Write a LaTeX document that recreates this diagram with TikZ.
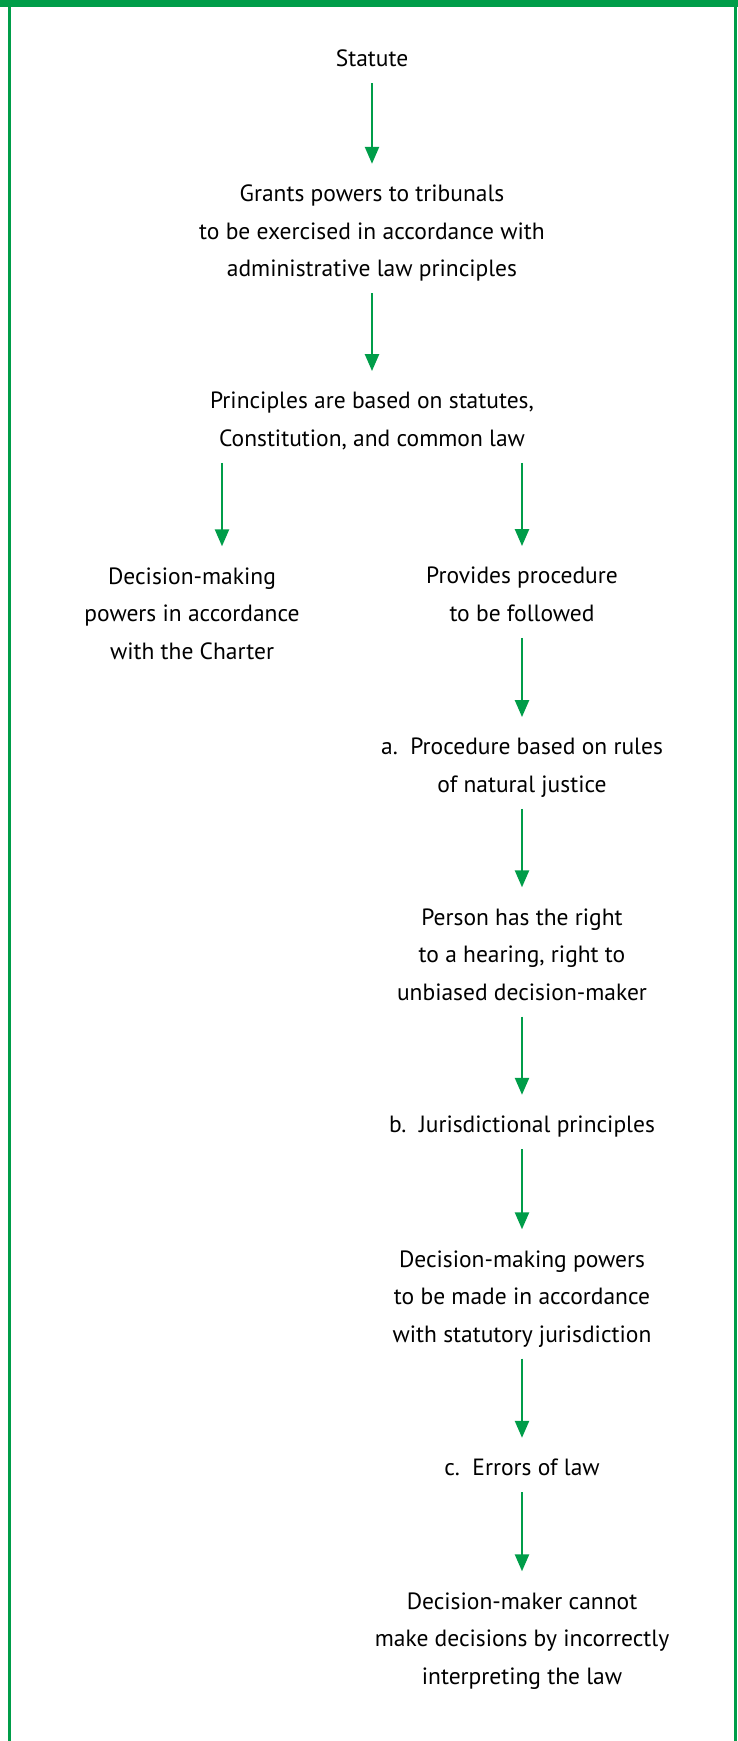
\documentclass[tikz,border=0pt]{standalone}
\usepackage{fontspec}
\setmainfont{PT Sans}
\usetikzlibrary{arrows.meta}
\definecolor{fgreen}{RGB}{0,157,73}
\begin{document}
\begin{tikzpicture}[x=1pt,y=-1pt,
  txt/.style={inner sep=0pt, align=center, font=\fontsize{23.5}{37.5}\selectfont},
  arr/.style={draw=fgreen, line width=2.4pt, -{Triangle[length=17pt,width=14pt]}, shorten <=5.25pt, shorten >=11.25pt}]
\useasboundingbox (0,0) rectangle (738,1741);
\fill[fgreen] (0,0) rectangle (738,7);
\draw[fgreen, line width=3pt] (9.2,0) -- (9.2,1741) (735.2,0) -- (735.2,1741);
\coordinate (lx) at (222,0);
\node[txt] (st) at (372,59) {\strut Statute};
\node[txt] (gr) at (372,231.5) {\strut Grants powers to tribunals\\\strut to be exercised in accordance with\\\strut administrative law principles};
\node[txt] (pr) at (372,420) {\strut Principles are based on statutes,\\\strut Constitution, and common law};
\node[txt] (dl) at (192,614) {\strut Decision-making\\\strut powers in accordance\\\strut with the Charter};
\node[txt] (pp) at (522,595) {\strut Provides procedure\\\strut to be followed};
\node[txt] (pa) at (522,766) {\strut a.\ \ Procedure based on rules\\\strut of natural justice};
\node[txt] (ph) at (522,955) {\strut Person has the right\\\strut to a hearing, right to\\\strut unbiased decision-maker};
\node[txt] (pb) at (522,1125) {\strut b.\ \ Jurisdictional principles};
\node[txt] (pd) at (522,1297) {\strut Decision-making powers\\\strut to be made in accordance\\\strut with statutory jurisdiction};
\node[txt] (pc) at (522,1468) {\strut c.\ \ Errors of law};
\node[txt] (pe) at (522,1639) {\strut Decision-maker cannot\\\strut make decisions by incorrectly\\\strut interpreting the law};
\draw[arr] (st.south) -- (gr.north);
\draw[arr] (gr.south) -- (pr.north);
\draw[arr] (pr.south -| lx) -- (dl.north -| lx);
\draw[arr] (pr.south -| pp.north) -- (pp.north);
\draw[arr] (pp.south) -- (pa.north);
\draw[arr] (pa.south) -- (ph.north);
\draw[arr] (ph.south) -- (pb.north);
\draw[arr] (pb.south) -- (pd.north);
\draw[arr] (pd.south) -- (pc.north);
\draw[arr] (pc.south) -- (pe.north);
\end{tikzpicture}
\end{document}
